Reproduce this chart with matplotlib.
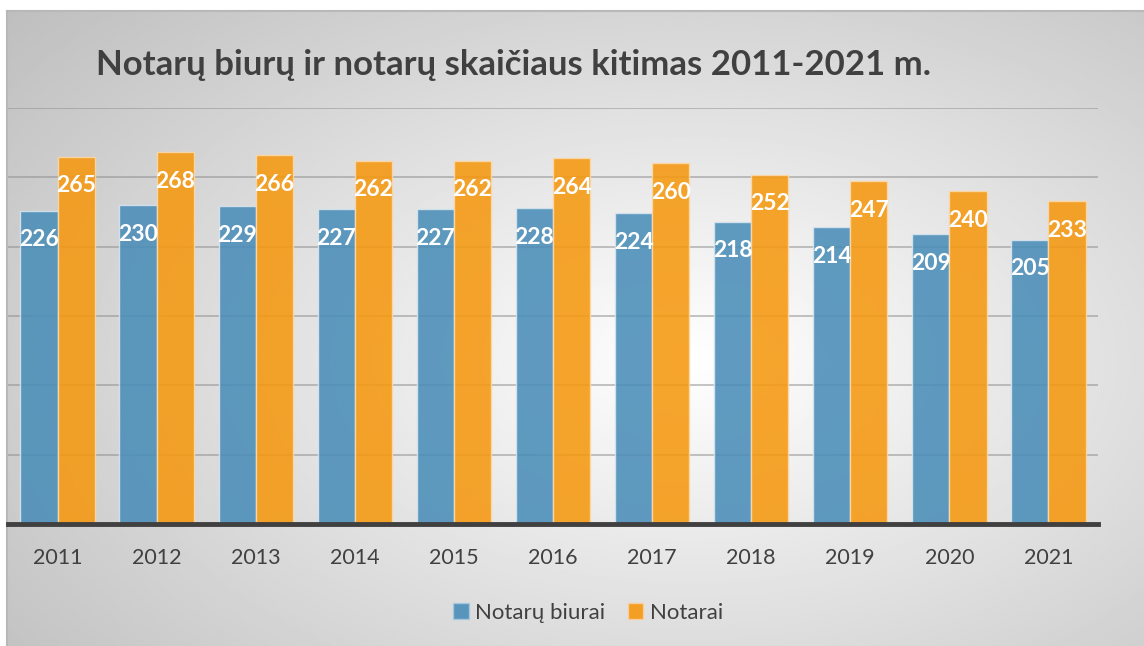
import numpy as np
import matplotlib
matplotlib.use('Agg')
import matplotlib.pyplot as plt
from matplotlib.patches import Patch

plt.rcParams['font.family'] = ['Lato', 'DejaVu Sans']

# Data
years = ['2011', '2012', '2013', '2014', '2015', '2016', '2017', '2018', '2019', '2020', '2021']
biurai = [226, 230, 229, 227, 227, 228, 224, 218, 214, 209, 205]
notarai = [265, 268, 266, 262, 262, 264, 260, 252, 247, 240, 233]

W, H = 1144, 646
fig = plt.figure(figsize=(W / 100, H / 100), dpi=100)

# Radial gradient background of the chart frame
bg = fig.add_axes([7 / W, 0, 1 - 7 / W, (H - 11) / H], zorder=-5)
gx, gy = np.meshgrid(np.linspace(0, 1, 400), np.linspace(0, 1, 300))
r = np.sqrt(((gx - 0.6) / 0.75) ** 2 + ((gy - 0.55) / 0.8) ** 2)
shade = 1.0 - 0.24 * np.clip(r, 0, 1.05)
bg.imshow(shade, cmap='gray', vmin=0, vmax=1, aspect='auto', extent=[0, 1, 0, 1],
          interpolation='bilinear')
bg.set_xticks([])
bg.set_yticks([])
for side in ['right', 'bottom']:
    bg.spines[side].set_visible(False)
for side in ['left', 'top']:
    bg.spines[side].set_color('#b8b8b8')
    bg.spines[side].set_linewidth(1.5)

# Main plot
ax = fig.add_axes([8 / W, (H - 524) / H, (1098 - 8) / W, (524 - 108) / H])
ax.patch.set_alpha(0)
x = np.arange(len(years))
bw = 0.375
b1 = ax.bar(x - bw / 2, biurai, bw, color='#4a8db8', alpha=0.88, edgecolor='#d8e6f0',
            linewidth=1, zorder=3, label='Notarų biurai')
b2 = ax.bar(x + bw / 2, notarai, bw, color='#f5980f', alpha=0.88, edgecolor='#fbd9a8',
            linewidth=1, zorder=3, label='Notarai')

for bars, vals in [(b1, biurai), (b2, notarai)]:
    for rect, v in zip(bars, vals):
        ax.annotate(str(v), (rect.get_x() + rect.get_width() / 2, v), xytext=(0, -21),
                    textcoords='offset points', ha='center', va='center',
                    color='white', fontsize=16.5, fontweight='bold', zorder=5)

ax.set_xlim(-0.5, 10.5)
ax.set_ylim(0, 300)
ax.set_yticks(np.arange(50, 301, 50))
ax.yaxis.grid(True, color='#8c8c8c', linewidth=1.3, alpha=0.55, zorder=1)
ax.set_axisbelow(True)
ax.tick_params(axis='y', left=False, labelleft=False)
ax.set_xticks(x)
ax.set_xticklabels(years)
ax.tick_params(axis='x', length=0, pad=17, labelsize=15.5, labelcolor='#404040')
for side in ['left', 'right', 'top']:
    ax.spines[side].set_visible(False)
ax.spines['bottom'].set_color('#404040')
ax.spines['bottom'].set_linewidth(3.5)
ax.spines['bottom'].set_zorder(6)

fig.text(513 / W, 1 - 65 / H, 'Notarų biurų ir notarų skaičiaus kitimas 2011-2021 m.',
         ha='center', va='center', fontsize=25, fontweight='bold', color='#404040')

handles = [Patch(facecolor='#4a8db8', edgecolor='#a8c8e0', alpha=0.9),
           Patch(facecolor='#f5980f', edgecolor='#fbd0a0', alpha=0.9)]
fig.legend(handles, ['Notarų biurai', 'Notarai'], loc='center',
           bbox_to_anchor=(588 / W, 1 - 613 / H), ncol=2, frameon=False,
           fontsize=16, handlelength=0.7, handleheight=0.7, handletextpad=0.3,
           columnspacing=1.0, labelcolor='#404040')

fig.savefig('out.png', dpi=100, facecolor='white')
